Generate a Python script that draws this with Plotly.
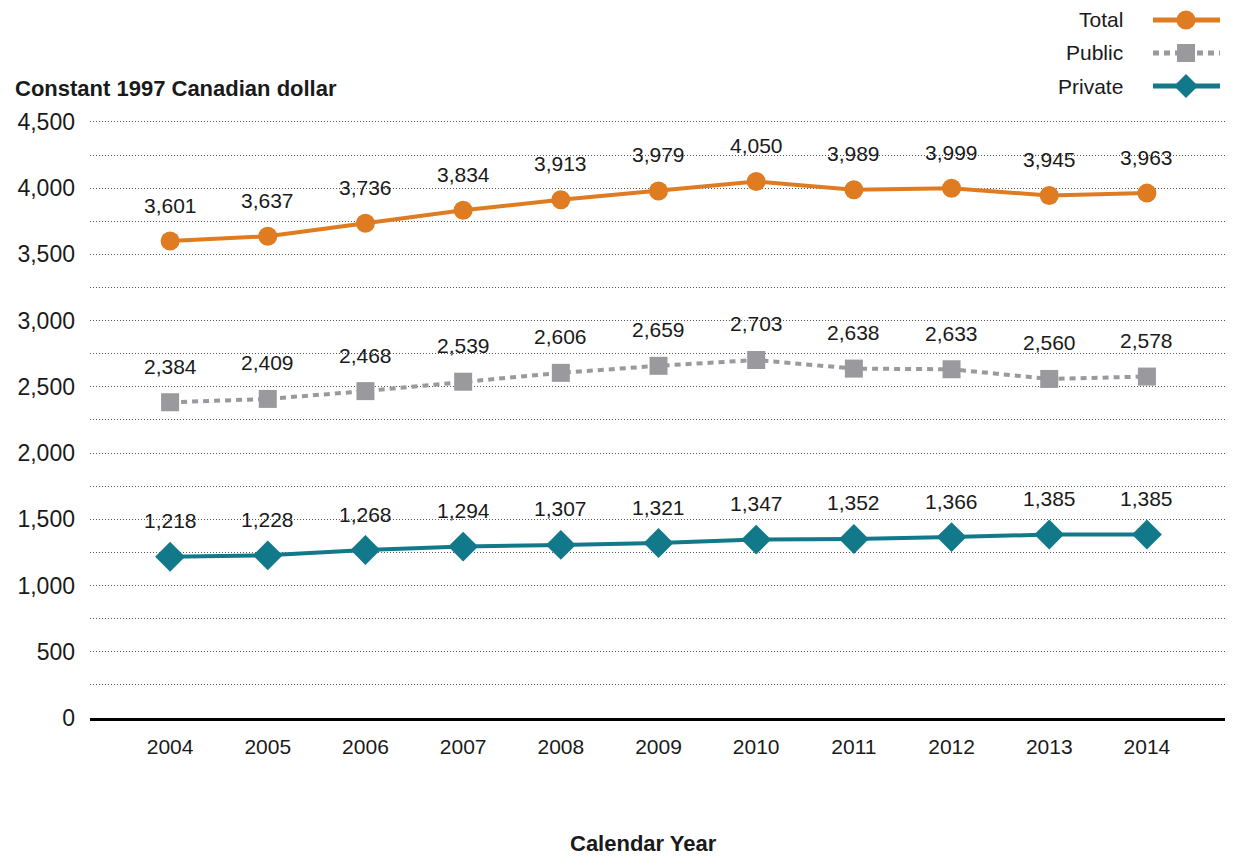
import plotly.graph_objects as go

years = [2004, 2005, 2006, 2007, 2008, 2009, 2010, 2011, 2012, 2013, 2014]
total = [3601, 3637, 3736, 3834, 3913, 3979, 4050, 3989, 3999, 3945, 3963]
public = [2384, 2409, 2468, 2539, 2606, 2659, 2703, 2638, 2633, 2560, 2578]
private = [1218, 1228, 1268, 1294, 1307, 1321, 1347, 1352, 1366, 1385, 1385]
series_names = ["Total", "Public", "Private"]

ORANGE = "#DF7B20"
GRAY = "#9A9A9E"
TEAL = "#12798A"
TXT = "#1a1a1a"
FONT = "Liberation Sans, Arial, Helvetica, sans-serif"

# page body has an 8px margin; size the figure so it fits the 1233x857 window
OFF = 8
W, H = 1233 - OFF, 857 - OFF
ML = 90 - OFF
MT = 120 - OFF
MR = W - (1228 - OFF)
MB = H - (718 - OFF)
PW = W - ML - MR
PH = H - MT - MB

def px(p):
    # window pixel x -> paper coordinate
    return (p - OFF - ML) / PW

def py(q):
    # window pixel y -> paper coordinate
    return (H - MB - (q - OFF)) / PH

fig = go.Figure()
fig.add_trace(go.Scatter(x=years, y=total, name="Total", mode="lines+markers",
                         line=dict(color=ORANGE, width=4),
                         marker=dict(symbol="circle", size=19, color=ORANGE)))
fig.add_trace(go.Scatter(x=years, y=public, name="Public", mode="lines+markers",
                         line=dict(color=GRAY, width=4, dash="6px,5px"),
                         marker=dict(symbol="square", size=18, color=GRAY)))
fig.add_trace(go.Scatter(x=years, y=private, name="Private", mode="lines+markers",
                         line=dict(color=TEAL, width=4),
                         marker=dict(symbol="diamond", size=23, color=TEAL)))

annotations = []
for series in (total, public, private):
    for x, v in zip(years, series):
        annotations.append(dict(x=x, y=v, xref="x", yref="y", text=f"{v:,}",
                                showarrow=False, yshift=36, yanchor="middle",
                                font=dict(family=FONT, size=21, color=TXT)))

annotations.append(dict(xref="paper", yref="paper", x=px(13), y=py(88),
                        xanchor="left", yanchor="middle", showarrow=False,
                        text="<b>Constant 1997 Canadian dollar</b>",
                        font=dict(family=FONT, size=22, color=TXT)))
annotations.append(dict(xref="paper", yref="paper", x=px(643), y=py(843),
                        xanchor="center", yanchor="middle", showarrow=False,
                        text="<b>Calendar Year</b>",
                        font=dict(family=FONT, size=22, color=TXT)))

# custom legend (text on the left, symbol on the right)
shapes = []
rows = [20, 53, 86]
colors = [ORANGE, GRAY, TEAL]
for name, q, c, i in zip(series_names, rows, colors, range(3)):
    annotations.append(dict(xref="paper", yref="paper", x=px(1125), y=py(q),
                            xanchor="right", yanchor="middle", showarrow=False,
                            text=name, font=dict(family=FONT, size=21, color=TXT)))
    shapes.append(dict(type="line", xref="paper", yref="paper",
                       x0=px(1153), x1=px(1220), y0=py(q), y1=py(q),
                       line=dict(color=c, width=5, dash="6px,5px" if i == 1 else "solid")))
    cx = 1186
    if i == 0:
        r = 9.5
        shapes.append(dict(type="circle", xref="paper", yref="paper",
                           x0=px(cx - r), x1=px(cx + r), y0=py(q + r), y1=py(q - r),
                           fillcolor=c, line=dict(width=0)))
    elif i == 1:
        r = 9
        shapes.append(dict(type="rect", xref="paper", yref="paper",
                           x0=px(cx - r), x1=px(cx + r), y0=py(q + r), y1=py(q - r),
                           fillcolor=c, line=dict(width=0)))
    else:
        r = 12
        path = (f"M {px(cx - r)} {py(q)} L {px(cx)} {py(q - r)} "
                f"L {px(cx + r)} {py(q)} L {px(cx)} {py(q + r)} Z")
        shapes.append(dict(type="path", xref="paper", yref="paper", path=path,
                           fillcolor=c, line=dict(width=0)))

fig.update_layout(
    width=W, height=H,
    margin=dict(l=ML, r=MR, t=MT, b=MB),
    paper_bgcolor="white", plot_bgcolor="white",
    showlegend=False,
    font=dict(family=FONT, color=TXT),
    annotations=annotations,
    shapes=shapes,
    xaxis=dict(range=[2003.18, 2014.83], tickmode="array", tickvals=years,
               ticktext=[str(y) for y in years],
               showgrid=False, zeroline=False,
               showline=True, linecolor="#000000", linewidth=3,
               ticks="", tickfont=dict(family=FONT, size=21, color=TXT),
               ticklabelstandoff=8),
    yaxis=dict(range=[0, 4515], dtick=500, tick0=0, tickformat=",d",
               showgrid=True, gridcolor="#555555", gridwidth=1, griddash="1px,2px",
               minor=dict(dtick=250, showgrid=True, gridcolor="#555555",
                          gridwidth=1, griddash="1px,2px"),
               zeroline=False, showline=False, ticks="",
               tickfont=dict(family=FONT, size=23, color=TXT),
               ticklabelstandoff=14),
)

fig.write_html("out.html")
